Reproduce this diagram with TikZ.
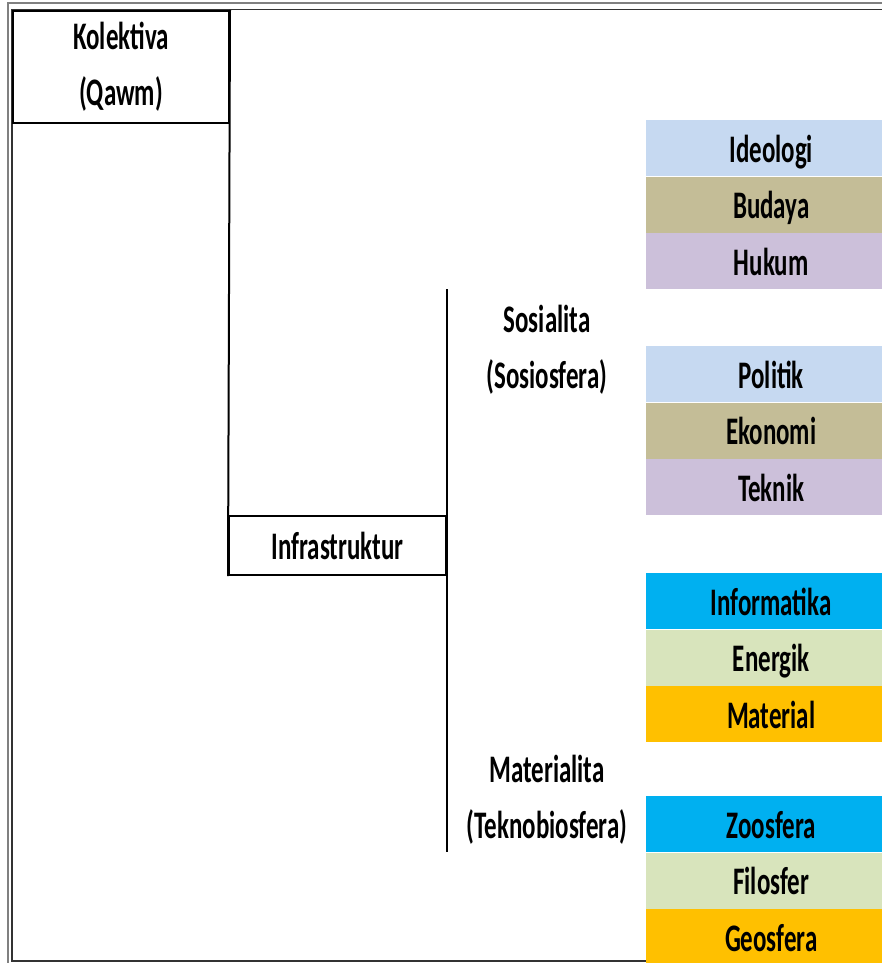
\documentclass[tikz,border=0pt]{standalone}
\usepackage{fontspec}
\setmainfont{Carlito}[FakeStretch=0.64]
\usepackage{tikz}
\usetikzlibrary{positioning}
\definecolor{ideoblue}{RGB}{198,217,241}
\definecolor{tanbrown}{RGB}{196,189,151}
\definecolor{lavender}{RGB}{204,192,218}
\definecolor{skyblue}{RGB}{0,176,240}
\definecolor{palegreen}{RGB}{216,228,188}
\definecolor{amber}{RGB}{255,192,0}
\tikzstyle{label} = [font=\fontsize{39}{56}\selectfont\bfseries, align=center]
\tikzstyle{cell} = [rectangle, draw, line width=2pt, inner sep=0pt, label]
\tikzstyle{layer} = [rectangle, minimum width=250pt, minimum height=56pt, inner sep=0pt,
    text height=30pt, text depth=2pt, text centered, font=\fontsize{39}{56}\selectfont\bfseries]
\tikzstyle{line} = [draw, line width=2pt]

\begin{document}
\begin{tikzpicture}[x=1pt, y=-1pt]
    \useasboundingbox (0,0) rectangle (882,963);
    \clip (0,0) rectangle (882,963);
    % Frame
    \draw [gray, line width=1.5pt] (890,3) -- (8,3) -- (8,970);
    \draw [black!80, line width=1.5pt] (890,9.5) -- (12,9.5) -- (12,961) -- (890,961);

    % Place nodes
    \node [cell, minimum width=216pt, minimum height=112pt, anchor=north west] (kolektiva) at (12,10) {Kolektiva\\(Qawm)};
    \node [cell, minimum width=217pt, minimum height=59pt, anchor=north west] (infra) at (228,515) {Infrastruktur};
    \node [label] (sosialita) at (547,350) {Sosialita\\(Sosiosfera)};
    \node [label] (materialita) at (547,800) {Materialita\\(Teknobiosfera)};

    \node [layer, fill=ideoblue, anchor=north west] (ideologi) at (646,120) {Ideologi};
    \node [layer, fill=tanbrown, below=0pt of ideologi] (budaya) {Budaya};
    \node [layer, fill=lavender, below=0pt of budaya] (hukum) {Hukum};

    \node [layer, fill=ideoblue, anchor=north west] (politik) at (646,346) {Politik};
    \node [layer, fill=tanbrown, below=0pt of politik] (ekonomi) {Ekonomi};
    \node [layer, fill=lavender, below=0pt of ekonomi] (teknik) {Teknik};

    \node [layer, fill=skyblue, anchor=north west] (informatika) at (646,573) {Informatika};
    \node [layer, fill=palegreen, below=0pt of informatika] (energik) {Energik};
    \node [layer, fill=amber, below=0pt of energik] (material) {Material};

    \node [layer, fill=skyblue, anchor=north west] (zoosfera) at (646,796) {Zoosfera};
    \node [layer, fill=palegreen, below=0pt of zoosfera] (filosfer) {Filosfer};
    \node [layer, fill=amber, below=0pt of filosfer] (geosfera) {Geosfera};

    % Draw edges
    \path [line] (kolektiva.north east) -- (infra.south west);
    \path [line] (infra.east |- hukum.south) -- (infra.east |- zoosfera.south);
\end{tikzpicture}
\end{document}
